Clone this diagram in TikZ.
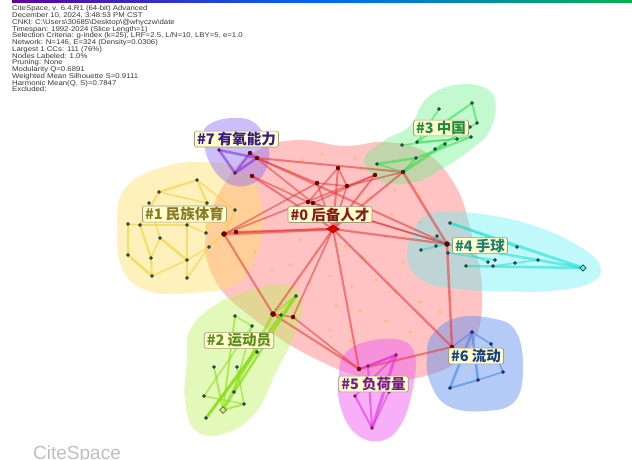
\documentclass[tikz,border=0pt]{standalone}
\usepackage{fontspec}
\setmainfont{Liberation Sans}
\newfontfamily\hdr[FakeStretch=1.13]{Liberation Sans}
\newfontfamily\cjk{Noto Sans CJK SC}
\usetikzlibrary{shapes.geometric}
\pgfdeclarelayer{blobs}
\pgfdeclarelayer{links}
\pgfsetlayers{blobs,links,main}
\definecolor{cr}{HTML}{E83A3A}
\definecolor{cy}{HTML}{F2CF2A}
\definecolor{cp}{HTML}{7A2AE8}
\definecolor{cg}{HTML}{2FE04A}
\definecolor{cc}{HTML}{22E0D2}
\definecolor{cl}{HTML}{88E010}
\definecolor{cm}{HTML}{E52AE5}
\definecolor{cb}{HTML}{3A86EE}
\definecolor{bred}{HTML}{FF7A7A}
\definecolor{byel}{HTML}{FFE060}
\definecolor{bpur}{HTML}{9070F0}
\definecolor{bgrn}{HTML}{60F080}
\definecolor{bcya}{HTML}{60F0F0}
\definecolor{blim}{HTML}{B8F050}
\definecolor{bmag}{HTML}{F060F0}
\definecolor{bblu}{HTML}{5A8CF0}
\definecolor{labfill}{HTML}{FFFFCC}
\definecolor{labdraw}{HTML}{A09A78}
\definecolor{t0}{HTML}{8B1A1A}
\definecolor{t1}{HTML}{8A7A26}
\definecolor{t2}{HTML}{5E8C1E}
\definecolor{t3}{HTML}{1E8C3C}
\definecolor{t4}{HTML}{1E7E72}
\definecolor{t5}{HTML}{7A1A8A}
\definecolor{t6}{HTML}{1A3C8C}
\definecolor{t7}{HTML}{3A1A8A}
\tikzset{
  dt/.style={circle, inner sep=0pt, minimum size=3.2pt, fill=black!72, draw=teal!55!black, line width=0.4pt},
  hubdot/.style={circle, inner sep=0pt, minimum size=4pt, fill=red!45!black, draw=red!30!black, line width=0.4pt},
  lk/.style n args={2}{draw=#1, line width=#2, draw opacity=0.58, line cap=round},
  blob/.style n args={2}{fill=#1, fill opacity=#2, draw=none},
  lab/.style={draw=labdraw, fill=labfill, line width=0.6pt, rounded corners=1.5pt,
    inner xsep=2.5pt, inner ysep=1pt, font=\cjk\bfseries\fontsize{14.5}{15}\selectfont}
}
\begin{document}
\begin{tikzpicture}[x=1pt,y=-1pt]
\useasboundingbox (0,0) rectangle (632,459);

% header text
\node[anchor=north west, inner sep=0pt, align=left, text=black!78,
  font=\hdr\fontsize{6.9}{6.75}\selectfont] (hdrtext) at (12,5.6) {%
CiteSpace, v. 6.4.R1 (64-bit) Advanced\\
December 10, 2024, 3:48:53 PM CST\\
CNKI: C:\textbackslash Users\textbackslash 30685\textbackslash Desktop\textbackslash @whyczw\textbackslash date\\
Timespan: 1992-2024 (Slice Length=1)\\
Selection Criteria: g-index (k=25), LRF=2.5, L/N=10, LBY=5, e=1.0\\
Network: N=146, E=324 (Density=0.0306)\\
Largest 1 CCs: 111 (76\%)\\
Nodes Labeled: 1.0\%\\
Pruning: None\\
Modularity Q=0.6891\\
Weighted Mean Silhouette S=0.9111\\
Harmonic Mean(Q, S)=0.7847\\
Excluded:};

% watermark
\node[anchor=base west, inner sep=0pt, text=black!25, font=\fontsize{19}{20}\selectfont] (wm) at (33,459) {CiteSpace};

% ---------- nodes ----------
% cluster 0
\node[diamond, aspect=1.6, inner sep=0pt, minimum width=13pt, minimum height=8pt, fill=red!90!black, draw=red!60!black, line width=0.4pt] (h0) at (333,229) {};
\node[hubdot] (r1) at (338,168) {};
\node[hubdot] (r2) at (317,183) {};
\node[hubdot] (r3) at (347,186) {};
\node[hubdot] (r4) at (375,175) {};
\node[hubdot] (r5) at (308,202) {};
\node[hubdot] (r6) at (313,203) {};
% cluster 1
\node[dt] (y1) at (197,180) {};
\node[dt] (y2) at (159,192) {};
\node[dt] (y3) at (149,203) {};
\node[dt] (y4) at (207,203) {};
\node[dt] (y5) at (235,210) {};
\node[dt] (y6) at (128,224) {};
\node[dt] (y7) at (140,225) {};
\node[dt] (y8) at (187,225) {};
\node[dt] (y9) at (160,238) {};
\node[dt] (y10) at (206,233) {};
\node[dt] (y11) at (209,247) {};
\node[dt] (y12) at (128,255) {};
\node[dt] (y13) at (151,258) {};
\node[dt] (y14) at (187,260) {};
\node[dt] (y15) at (152,276) {};
\node[dt] (y16) at (187,278) {};
\node[hubdot, minimum size=5pt] (h1) at (224,234) {};
\node[hubdot] (y17) at (236,232) {};
% cluster 7
\node[dt, fill=black!80, draw=violet] (p1) at (219,150) {};
\node[dt, fill=black!80, draw=violet] (p2) at (235,173) {};
\node[hubdot] (p3) at (250,153) {};
\node[hubdot] (p4) at (257,158) {};
\node[hubdot] (p5) at (252,176) {};
% cluster 3
\node[dt] (g1) at (439,109) {};
\node[dt] (g2) at (472,103) {};
\node[dt] (g3) at (477,123) {};
\node[dt] (g4) at (470,127) {};
\node[dt] (g5) at (471,137) {};
\node[dt] (g6) at (457,139) {};
\node[dt] (g7) at (445,144) {};
\node[dt] (g8) at (435,149) {};
\node[dt] (g9) at (417,142) {};
\node[dt] (g10) at (402,145) {};
\node[dt] (g11) at (416,158) {};
\node[dt] (g12) at (377,164) {};
\node[hubdot, fill=black!80] (h3) at (403,172) {};
% cluster 4
\node[dt] (c1) at (450,223) {};
\node[dt] (c2) at (437,236) {};
\node[dt] (c3) at (436,246) {};
\node[dt] (c4) at (421,250) {};
\node[hubdot, minimum size=5pt] (h4) at (447,244) {};
\node[dt] (c5) at (448,253) {};
\node[dt] (c6) at (517,247) {};
\node[dt] (c7) at (488,262) {};
\node[dt] (c8) at (495,260) {};
\node[dt] (c9) at (493,266) {};
\node[dt] (c10) at (466,266) {};
\node[dt] (c11) at (515,263) {};
\node[dt] (c12) at (538,260) {};
\node[diamond, inner sep=0pt, minimum size=6.5pt, fill=cc!60, draw=teal!60!black, line width=0.6pt] (c13) at (583,268) {};
% cluster 2
\node[dt] (l1) at (296,296) {};
\node[hubdot, minimum size=5pt] (h2) at (273,314) {};
\node[dt] (l2) at (281,315) {};
\node[hubdot] (l3) at (293,317) {};
\node[dt] (l4) at (235,316) {};
\node[dt] (l5) at (252,326) {};
\node[dt] (l6) at (257,352) {};
\node[dt] (l7) at (214,367) {};
\node[dt] (l8) at (237,367) {};
\node[dt] (l9) at (204,396) {};
\node[dt] (l10) at (234,392) {};
\node[dt] (l11) at (244,404) {};
\node[diamond, inner sep=0pt, minimum size=7pt, fill=cl!50, draw=olive!70!black, line width=0.6pt] (l12) at (223,410) {};
\node[dt] (l13) at (206,418) {};
% cluster 5
\node[hubdot] (h5) at (359,369) {};
\node[dt, draw=purple] (m1) at (368,366) {};
\node[dt, draw=purple] (m2) at (396,355) {};
\node[dt, draw=purple] (m3) at (355,396) {};
\node[dt, draw=purple] (m4) at (389,392) {};
\node[dt, draw=purple] (m5) at (372,428) {};
% cluster 6
\node[dt, draw=blue!60!black] (b1) at (472,332) {};
\node[dt, draw=blue!60!black] (b2) at (491,344) {};
\node[hubdot] (h6) at (452,347) {};
\node[dt, draw=blue!60!black] (b3) at (450,388) {};
\node[dt, draw=blue!60!black] (b4) at (478,380) {};
\node[dt, draw=blue!60!black] (b5) at (503,372) {};

% ---------- blobs ----------
\begin{pgfonlayer}{blobs}
\fill[white] (0,0) rectangle (632,459);
\shade[left color=violet!75!blue, right color=teal!60!green, middle color=blue!60!cyan] (12,0) rectangle (632,2.6);
\path[blob={bred}{0.45}] plot[smooth cycle, tension=0.7] coordinates {
 (228,178) (258,150) (298,140) (345,146) (385,142) (425,152) (455,185) (470,228)
 (482,290) (472,345) (432,374) (370,378) (310,356) (258,322) (216,282) (206,232)};
\path[blob={byel}{0.42}] plot[smooth cycle, tension=0.7] coordinates {
 (124,190) (160,168) (205,162) (245,172) (262,205) (258,250) (236,284) (190,293)
 (148,291) (123,270) (117,230)};
\path[blob={bpur}{0.45}] plot[smooth cycle, tension=0.7] coordinates {
 (207,126) (232,118) (256,124) (269,150) (263,175) (245,186) (226,182) (211,165) (204,143)};
\path[blob={bgrn}{0.38}] plot[smooth cycle, tension=0.7] coordinates {
 (364,160) (385,140) (410,126) (425,100) (450,86) (480,86) (495,100) (490,130)
 (470,150) (440,170) (415,182) (383,182)};
\path[blob={bcya}{0.4}] plot[smooth cycle, tension=0.7] coordinates {
 (418,222) (440,212) (482,214) (532,225) (577,245) (600,266) (590,283) (550,291)
 (500,291) (458,289) (424,281) (407,258)};
\path[blob={blim}{0.4}] plot[smooth cycle, tension=0.7] coordinates {
 (190,330) (215,305) (250,290) (288,285) (302,302) (296,332) (276,372) (256,412)
 (226,433) (196,431) (185,400) (187,360)};
\path[blob={bmag}{0.5}] plot[smooth cycle, tension=0.7] coordinates {
 (344,355) (365,342) (400,340) (415,356) (412,392) (400,426) (380,441) (355,433)
 (340,405) (339,375)};
\path[blob={bblu}{0.45}] plot[smooth cycle, tension=0.7] coordinates {
 (432,335) (456,318) (490,318) (515,330) (523,366) (515,401) (485,411) (448,406)
 (430,382) (427,356)};
% small unlabeled nodes
\foreach \x/\y in {290/170,302/160,322/154,355/158,368/198,395/190,420/196,300/240,316/252,
  345/246,362/257,385/236,403/262,290/265,310/282,330/276,352/287,376/280,396/292,420/302,
  300/302,336/306,360/311,386/321,410/332,330/330,350/341,255/252,272/270,420/222,440/312,
  284/188,392/214,318/228,372/222}
  \fill[orange!60!yellow, fill opacity=0.5] (\x,\y) circle (1.6);
\end{pgfonlayer}

% ---------- links ----------
\begin{pgfonlayer}{links}
% yellow
\draw[lk={cy}{2}] (y1) -- (y2);
\draw[lk={cy}{2}] (y1) -- (y4);
\draw[lk={cy}{1.5}] (y1) -- (y5);
\draw[lk={cy}{2}] (y2) -- (y7);
\draw[lk={cy}{1.5}] (y3) -- (y9);
\draw[lk={cy}{1.5}] (y2) -- (y4);
\draw[lk={cy}{2.5}] (y7) -- (y8);
\draw[lk={cy}{1.5}] (y6) -- (y7);
\draw[lk={cy}{1.5}] (y6) -- (y12);
\draw[lk={cy}{2.5}] (y12) -- (y15);
\draw[lk={cy}{2}] (y15) -- (y13);
\draw[lk={cy}{2}] (y13) -- (y7);
\draw[lk={cy}{1.5}] (y13) -- (y9);
\draw[lk={cy}{2.5}] (y9) -- (y14);
\draw[lk={cy}{2.5}] (y8) -- (y16);
\draw[lk={cy}{1.5}] (y14) -- (y11);
\draw[lk={cy}{1.5}] (y16) -- (y11);
\draw[lk={cy}{1.5}] (y10) -- (y8);
\draw[lk={cy}{1.5}] (y4) -- (y10);
\draw[lk={cy}{2}] (y5) -- (h1);
\draw[lk={cy}{1.5}] (y11) -- (h1);
\draw[lk={cy}{2}] (y8) -- (y4);
\draw[lk={cy}{1.5}] (y15) -- (y14);
% purple
\draw[lk={cp}{2.5}] (p1) -- (p4);
\draw[lk={cp}{2.5}] (p1) -- (p2);
\draw[lk={cp}{2.5}] (p2) -- (p4);
\draw[lk={cp}{2}] (p2) -- (p3);
\draw[lk={cm}{2}] (p3) -- (p4);
% red
\draw[lk={cr}{3}] (h1) -- (h0);
\draw[lk={cr}{2}] (y17) -- (h0);
\draw[lk={cr}{1.6}] (h1) -- (r2);
\draw[lk={cr}{1.6}] (h1) -- (r4);
\draw[lk={cr}{2}] (p4) -- (h3);
\draw[lk={cr}{2}] (p4) -- (h4);
\draw[lk={cr}{1.6}] (p4) -- (r2);
\draw[lk={cr}{1.6}] (p3) -- (r6);
\draw[lk={cr}{2}] (p5) -- (h0);
\draw[lk={cr}{1.6}] (p5) -- (r5);
\draw[lk={cr}{2}] (h0) -- (r1);
\draw[lk={cr}{1.6}] (h0) -- (r2);
\draw[lk={cr}{1.6}] (h0) -- (r3);
\draw[lk={cr}{2}] (h0) -- (r4);
\draw[lk={cr}{2}] (h0) -- (h3);
\draw[lk={cr}{2.2}] (h0) -- (h4);
\draw[lk={cr}{2}] (h0) -- (h2);
\draw[lk={cr}{1.6}] (h0) -- (l3);
\draw[lk={cr}{2}] (h0) -- (h5);
\draw[lk={cr}{2.2}] (h0) -- (h6);
\draw[lk={cr}{2.5}] (h3) -- (h4);
\draw[lk={cr}{2.5}] (h4) -- (h6);
\draw[lk={cr}{2}] (h5) -- (h6);
\draw[lk={cr}{2}] (h1) -- (h2);
\draw[lk={cr}{2}] (h2) -- (h5);
\draw[lk={cr}{1.6}] (l3) -- (h5);
\draw[lk={cr}{1.6}] (h2) -- (l3);
\draw[lk={cr}{1.6}] (r1) -- (r3);
\draw[lk={cr}{1.6}] (r1) -- (r5);
\draw[lk={cr}{1.6}] (r2) -- (r3);
\draw[lk={cr}{1.6}] (r4) -- (r6);
\draw[lk={cr}{1.6}] (r3) -- (h3);
\draw[lk={cr}{1.6}] (r5) -- (h4);
\draw[lk={cr}{1.6}] (r6) -- (h4);
% green
\draw[lk={cg}{3}] (h3) -- (g7);
\draw[lk={cg}{2.5}] (g12) -- (g11);
\draw[lk={cg}{2}] (g11) -- (g5);
\draw[lk={cg}{2}] (g9) -- (g2);
\draw[lk={cg}{2}] (g2) -- (g3);
\draw[lk={cg}{1.5}] (g3) -- (g4);
\draw[lk={cg}{1.5}] (g1) -- (g9);
\draw[lk={cg}{1.5}] (g10) -- (g5);
\draw[lk={cg}{1.5}] (g9) -- (g6);
\draw[lk={cg}{1.5}] (g8) -- (g4);
\draw[lk={cg}{2}] (h3) -- (g11);
\draw[lk={cg}{1.5}] (g12) -- (h3);
% cyan
\draw[lk={cc}{3}] (c1) -- (c13);
\draw[lk={cc}{2.5}] (h4) -- (c13);
\draw[lk={cc}{2.5}] (c10) -- (c13);
\draw[lk={cc}{2}] (c4) -- (h4);
\draw[lk={cc}{1.5}] (c2) -- (h4);
\draw[lk={cc}{1.5}] (c1) -- (c6);
\draw[lk={cc}{1.5}] (h4) -- (c7);
\draw[lk={cc}{1.5}] (c5) -- (c8);
\draw[lk={cc}{1.5}] (c9) -- (c12);
\draw[lk={cc}{1.5}] (c3) -- (c2);
% lime
\draw[lk={cl}{3}] (l13) -- (l1);
\draw[lk={cl}{3}] (l12) -- (h2);
\draw[lk={cl}{2}] (l13) -- (l6);
\draw[lk={cl}{2}] (l7) -- (l12);
\draw[lk={cl}{2}] (l4) -- (l12);
\draw[lk={cl}{1.5}] (l9) -- (l11);
\draw[lk={cl}{2}] (l12) -- (l11);
\draw[lk={cl}{1.5}] (l8) -- (l11);
\draw[lk={cl}{1.5}] (l5) -- (l10);
\draw[lk={cl}{2}] (l13) -- (l2);
\draw[lk={cl}{2}] (l1) -- (h2);
\draw[lk={cl}{2}] (l12) -- (l1);
\draw[lk={cl}{1.5}] (l4) -- (l5);
\draw[lk={cl}{1.5}] (l9) -- (l5);
\draw[lk={cl}{1.5}] (l10) -- (l1);
% magenta
\draw[lk={cm}{2.5}] (m1) -- (m2);
\draw[lk={cm}{3}] (m2) -- (m5);
\draw[lk={cm}{2}] (m3) -- (m5);
\draw[lk={cm}{1.5}] (m3) -- (m2);
\draw[lk={cm}{2}] (m1) -- (m5);
\draw[lk={cm}{1.5}] (m4) -- (m5);
\draw[lk={cm}{1.5}] (h5) -- (m2);
\draw[lk={cm}{1.5}] (h5) -- (m1);
% blue
\draw[lk={cb}{2.5}] (b1) -- (b3);
\draw[lk={cb}{2.5}] (b1) -- (b4);
\draw[lk={cb}{2}] (b3) -- (b4);
\draw[lk={cb}{1.5}] (b1) -- (b2);
\draw[lk={cb}{1.5}] (b2) -- (b5);
\draw[lk={cb}{1.5}] (h6) -- (b1);
\draw[lk={cb}{1.5}] (b4) -- (b5);
\end{pgfonlayer}

% ---------- labels ----------
\node[lab, text=t0] (lab0) at (330,214.5) {\#0 后备人才};
\node[lab, text=t1] (lab1) at (184.5,214) {\#1 民族体育};
\node[lab, text=t7] (lab7) at (236.5,139) {\#7 有氧能力};
\node[lab, text=t3] (lab3) at (441,128) {\#3 中国};
\node[lab, text=t4] (lab4) at (480,245.5) {\#4 手球};
\node[lab, text=t2] (lab2) at (239,340.5) {\#2 运动员};
\node[lab, text=t5] (lab5) at (373.5,384) {\#5 负荷量};
\node[lab, text=t6] (lab6) at (476,356) {\#6 流动};
\end{tikzpicture}
\end{document}
